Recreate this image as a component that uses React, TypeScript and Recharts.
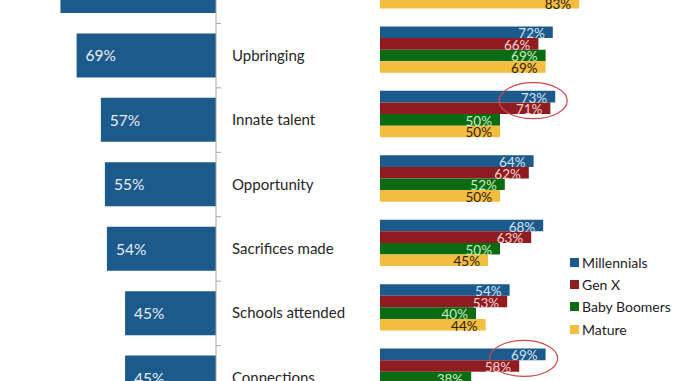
import React from "react";
import { BarChart, Bar, XAxis, YAxis, LabelList } from "recharts";

const categories = ["Hard work", "Upbringing", "Innate talent", "Opportunity", "Sacrifices made", "Schools attended", "Connections"];
const overall = [77, 69, 57, 55, 54, 45, 45];
const millennials = [76, 72, 73, 64, 68, 54, 69];
const genX = [79, 66, 71, 62, 63, 53, 58];
const boomers = [81, 69, 50, 52, 50, 40, 38];
const mature = [83, 69, 50, 50, 45, 44, 36];
const highlighted = ["Innate talent", "Connections"];

const seriesNames = ["Millennials", "Gen X", "Baby Boomers", "Mature"];
const seriesKeys = ["millennials", "genX", "boomers", "mature"];
const seriesColors = ["#1d5a8c", "#8e1c20", "#0b6b12", "#f3bd40"];
const labelColors = ["#d3e4f4", "#f6d3d3", "#c8efc0", "#2e2000"];

const leftData = categories.map((name, i) => ({ name, overall: overall[i] }));
const rightData = categories.map((name, i) => ({
    name,
    millennials: millennials[i],
    genX: genX[i],
    boomers: boomers[i],
    mature: mature[i],
}));

const FONT = "Lato, 'Open Sans', sans-serif";
const CHART_H = 451;
const BAND = CHART_H / categories.length;

const CategoryTick = (props: any) => {
    const { x, y, payload } = props;
    return (
        <g>
            <line x1={x} x2={x + 5} y1={y + BAND / 2} y2={y + BAND / 2} stroke="#a6a6a6" />
            <text x={x + 16} y={y - 1} dominantBaseline="central" fontSize={15} fill="#262626" fontFamily={FONT}>
                {payload.value}
            </text>
        </g>
    );
};

const OverallLabel = (props: any) => {
    const { x, y, width, height, value } = props;
    const left = Math.min(x, x + width);
    return (
        <text x={left + 9} y={y + height / 2} dominantBaseline="central" fontSize={15.5} fill="#e8eef6" fontFamily={FONT}>
            {value}%
        </text>
    );
};

const makeLabel = (color: string, ring?: boolean) => (props: any) => {
    const { x, y, width, height, value, index } = props;
    const end = x + width;
    const showRing = ring && highlighted.includes(categories[index]);
    return (
        <g>
            <text x={end - 8} y={y + height / 2 + 1} textAnchor="end" dominantBaseline="central" fontSize={13.5} fill={color} fontFamily={FONT}>
                {value}%
            </text>
            {showRing && (
                <ellipse cx={end - 22} cy={y + height * 0.85} rx={34} ry={18} fill="none" stroke="#d2484c" strokeWidth={1.2} />
            )}
        </g>
    );
};

export default function App() {
    return (
        <div style={{ position: "absolute", left: 0, top: 0, width: 678, height: 381, overflow: "hidden", background: "#fff" }}>
            <div style={{ position: "absolute", left: 0, top: -41.4 }}>
                <BarChart width={366} height={CHART_H} layout="vertical" data={leftData} margin={{ top: 0, right: 0, bottom: 0, left: 14 }}>
                    <XAxis type="number" domain={[0, 100]} reversed hide />
                    <YAxis
                        type="category"
                        dataKey="name"
                        orientation="right"
                        width={150}
                        axisLine={{ stroke: "#a6a6a6" }}
                        tickLine={false}
                        tickSize={0}
                        tickMargin={0}
                        tick={<CategoryTick />}
                        interval={0}
                    />
                    <Bar dataKey="overall" fill="#1d5a8c" barSize={44} isAnimationActive={false}>
                        <LabelList dataKey="overall" content={<OverallLabel />} />
                    </Bar>
                </BarChart>
            </div>
            <div style={{ position: "absolute", left: 380, top: -46.6 }}>
                <BarChart width={298} height={CHART_H} layout="vertical" data={rightData} margin={{ top: 0, right: 58, bottom: 0, left: 0 }} barGap={0}>
                    <XAxis type="number" domain={[0, 100]} hide />
                    <YAxis type="category" dataKey="name" hide width={0} />
                    {seriesKeys.map((k, i) => (
                        <Bar key={k} dataKey={k} name={seriesNames[i]} fill={seriesColors[i]} barSize={11.6} isAnimationActive={false}>
                            <LabelList dataKey={k} content={makeLabel(labelColors[i], i === 0)} />
                        </Bar>
                    ))}
                </BarChart>
            </div>
            <div style={{ position: "absolute", left: 570, top: 251, fontFamily: FONT, fontSize: 14, color: "#222" }}>
                {seriesNames.map((n, i) => (
                    <div key={n} style={{ display: "flex", alignItems: "center", height: 22.3 }}>
                        <span style={{ width: 9, height: 9, background: seriesColors[i], marginRight: 3, display: "inline-block" }} />
                        {n}
                    </div>
                ))}
            </div>
        </div>
    );
}
